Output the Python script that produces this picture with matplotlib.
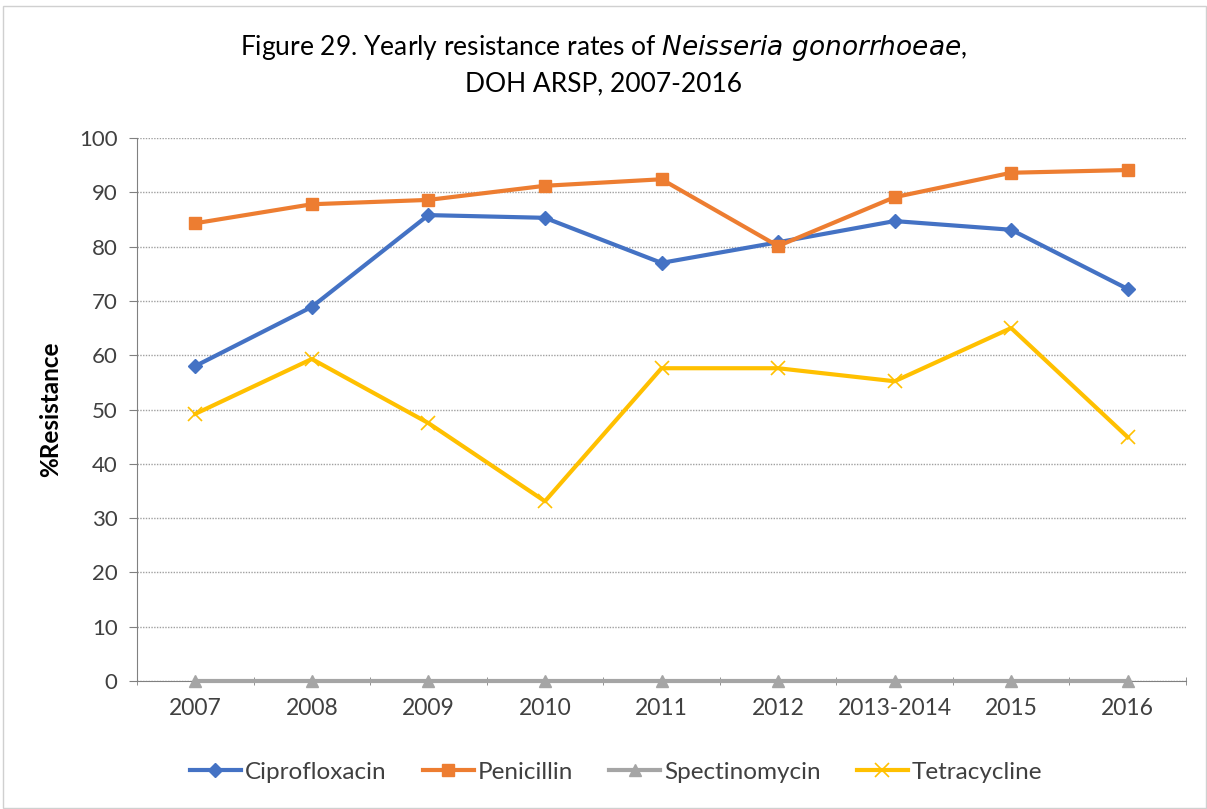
import numpy as np
import matplotlib.pyplot as plt
from matplotlib.patches import Rectangle

plt.rcParams['font.family'] = ['Lato', 'DejaVu Sans']

years = ["2007", "2008", "2009", "2010", "2011", "2012", "2013-2014", "2015", "2016"]
ciprofloxacin = [58.0, 68.9, 85.8, 85.3, 77.0, 80.8, 84.7, 83.1, 72.2]
penicillin = [84.3, 87.8, 88.6, 91.2, 92.4, 80.1, 89.1, 93.6, 94.1]
spectinomycin = [0, 0, 0, 0, 0, 0, 0, 0, 0]
tetracycline = [49.2, 59.3, 47.5, 33.1, 57.6, 57.6, 55.2, 65.0, 44.9]
y_ticks = [0, 10, 20, 30, 40, 50, 60, 70, 80, 90, 100]

W, H = 1207, 809
fig = plt.figure(figsize=(W / 100, H / 100), dpi=100)
fig.patches.append(Rectangle((3 / W, 1 / H), 1203 / W, 802 / H, transform=fig.transFigure,
                             fill=False, edgecolor="#d0d0d0", linewidth=1))

ax = fig.add_axes([137 / W, 1 - 681 / H, (1186 - 137) / W, (681 - 138) / H])
x = np.arange(len(years))

ax.plot(x, ciprofloxacin, color="#4472C4", lw=3, marker="D", ms=7, label="Ciprofloxacin", zorder=4)
ax.plot(x, penicillin, color="#ED7D31", lw=3, marker="s", ms=9, label="Penicillin", zorder=4)
ax.plot(x, spectinomycin, color="#A5A5A5", lw=3, marker="^", ms=9, label="Spectinomycin", zorder=4,
        clip_on=False)
ax.plot(x, tetracycline, color="#FFC000", lw=3, marker="x", ms=10, mew=1.2, label="Tetracycline", zorder=4)

ax.set_xlim(-0.5, len(years) - 0.5)
ax.set_ylim(0, 100)
ax.set_yticks(y_ticks)
ax.set_xticks(x)
ax.set_xticklabels(years)
ax.set_xticks(np.arange(-0.5, len(years)), minor=True)
ax.tick_params(axis="x", which="major", length=0, pad=12, labelsize=16.5, colors="#404040")
ax.tick_params(axis="x", which="minor", length=6, direction="inout", color="#808080")
ax.tick_params(axis="y", length=6, direction="out", color="#808080", labelsize=16, colors="#404040", pad=8)
ax.grid(axis="y", linestyle=(0, (1, 1)), color="#a0a0a0", lw=1)
for s in ["top", "right"]:
    ax.spines[s].set_visible(False)
ax.spines["left"].set_color("#808080")
ax.spines["bottom"].set_color("#808080")

ax.set_ylabel("%Resistance", fontsize=17.5, fontweight="bold", labelpad=12)

fig.text(0.5, 1 - 48 / H, "Figure 29. Yearly resistance rates of $\\it{Neisseria\\ gonorrhoeae}$,",
         ha="center", va="center", fontsize=19, color="#000000")
fig.text(0.5, 1 - 84 / H, "DOH ARSP, 2007-2016", ha="center", va="center", fontsize=19)

ax.legend(loc="center", bbox_to_anchor=((616 - 137) / (1186 - 137), (681 - 772) / (681 - 138)),
          ncol=4, frameon=False, fontsize=17.5, handlelength=2.1, columnspacing=1.5,
          handletextpad=0.15, labelcolor="#404040")

fig.savefig("out.png", dpi=100)
